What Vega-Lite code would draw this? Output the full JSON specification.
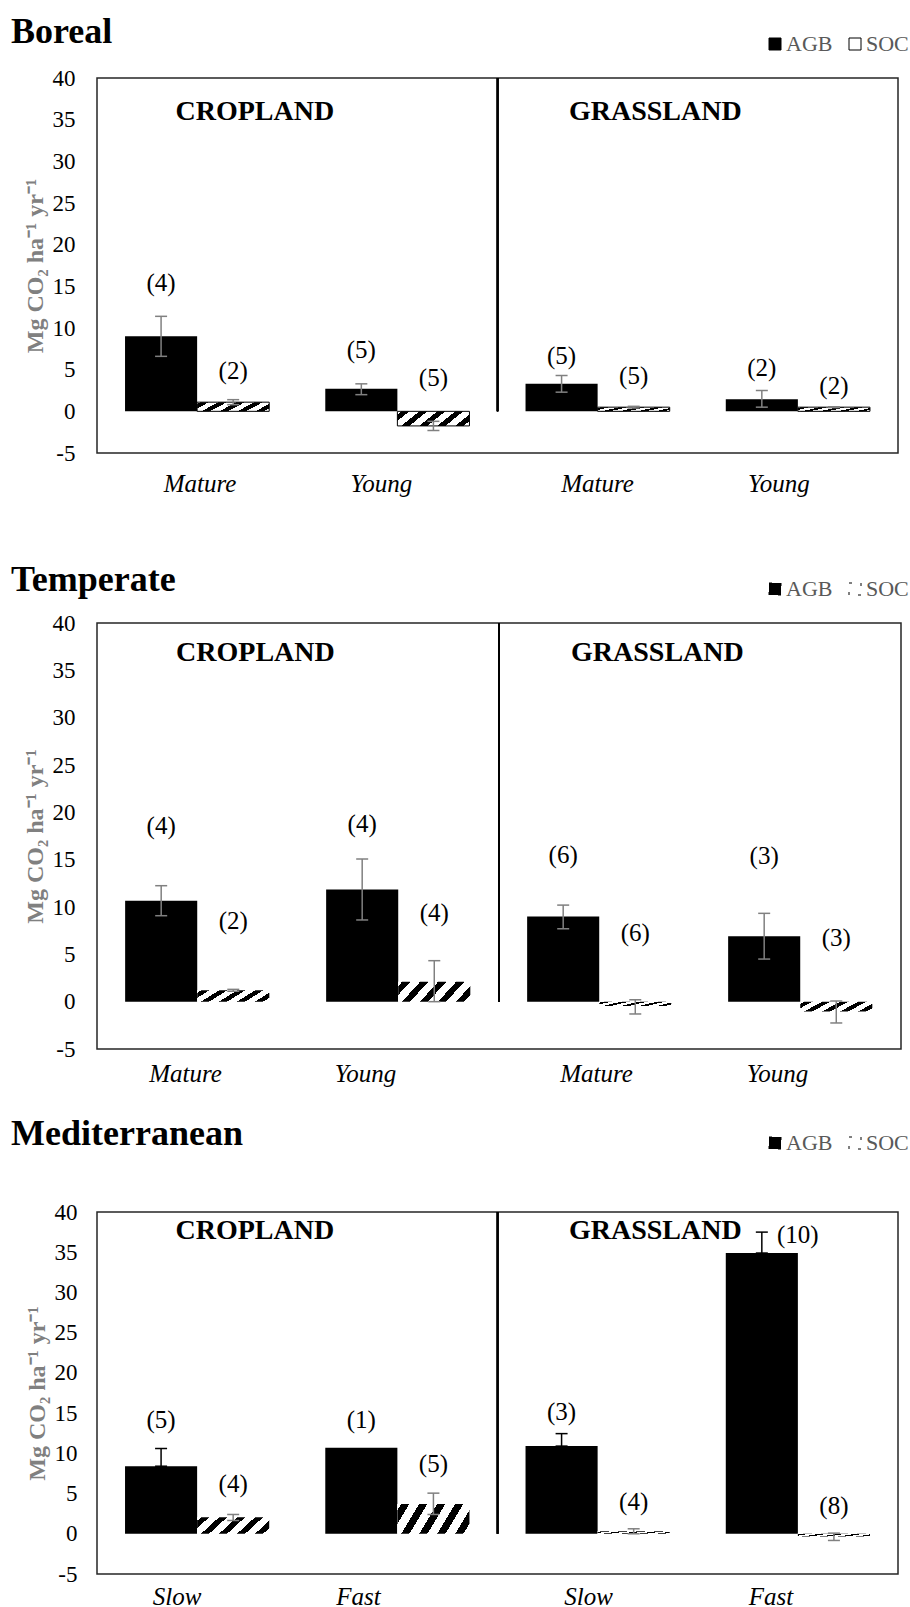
{
  "$schema": "https://vega.github.io/schema/vega-lite/v6.json",
  "padding": {"left": 10, "top": 13, "right": 0, "bottom": 0},
  "background": "white",
  "config": {
    "font": "Liberation Serif",
    "view": {"stroke": "#262626", "strokeWidth": 1.5},
    "axis": {"grid": false, "ticks": false, "domain": false, "labelFont": "Liberation Serif", "labelColor": "black", "titleFont": "Liberation Serif"},
    "legend": {"labelFont": "Liberation Serif"},
    "text": {"font": "Liberation Serif"},
    "concat": {"spacing": 28}
  },
  "datasets": {
    "d": [
      {"region": "Boreal", "grp": "C|Mature", "comp": "AGB", "v": 9.0, "lo": 6.6, "hi": 11.4, "n": "(4)", "ly": 15.4},
      {"region": "Boreal", "grp": "C|Mature", "comp": "SOC", "v": 1.1, "lo": 0.8, "hi": 1.4, "n": "(2)", "ly": 4.8},
      {"region": "Boreal", "grp": "C|Young", "comp": "AGB", "v": 2.7, "lo": 2.0, "hi": 3.3, "n": "(5)", "ly": 7.4},
      {"region": "Boreal", "grp": "C|Young", "comp": "SOC", "v": -1.75, "lo": -2.3, "hi": -1.2, "n": "(5)", "ly": 4.0},
      {"region": "Boreal", "grp": "G|Mature", "comp": "AGB", "v": 3.3, "lo": 2.3, "hi": 4.3, "n": "(5)", "ly": 6.6},
      {"region": "Boreal", "grp": "G|Mature", "comp": "SOC", "v": 0.5, "lo": 0.4, "hi": 0.6, "n": "(5)", "ly": 4.2},
      {"region": "Boreal", "grp": "G|Young", "comp": "AGB", "v": 1.45, "lo": 0.5, "hi": 2.5, "n": "(2)", "ly": 5.2},
      {"region": "Boreal", "grp": "G|Young", "comp": "SOC", "v": 0.5, "lo": 0.45, "hi": 0.55, "n": "(2)", "ly": 3.0},
      {"region": "Temperate", "grp": "C|Mature", "comp": "AGB", "v": 10.65, "lo": 9.08, "hi": 12.25, "n": "(4)", "ly": 18.6},
      {"region": "Temperate", "grp": "C|Mature", "comp": "SOC", "v": 1.2, "lo": 1.1, "hi": 1.3, "n": "(2)", "ly": 8.55},
      {"region": "Temperate", "grp": "C|Young", "comp": "AGB", "v": 11.85, "lo": 8.63, "hi": 15.07, "n": "(4)", "ly": 18.75},
      {"region": "Temperate", "grp": "C|Young", "comp": "SOC", "v": 2.1, "lo": 0.0, "hi": 4.33, "n": "(4)", "ly": 9.4},
      {"region": "Temperate", "grp": "G|Mature", "comp": "AGB", "v": 9.0, "lo": 7.7, "hi": 10.2, "n": "(6)", "ly": 15.5},
      {"region": "Temperate", "grp": "G|Mature", "comp": "SOC", "v": -0.45, "lo": -1.3, "hi": 0.2, "n": "(6)", "ly": 7.25},
      {"region": "Temperate", "grp": "G|Young", "comp": "AGB", "v": 6.9, "lo": 4.5, "hi": 9.33, "n": "(3)", "ly": 15.35},
      {"region": "Temperate", "grp": "G|Young", "comp": "SOC", "v": -1.05, "lo": -2.25, "hi": 0.07, "n": "(3)", "ly": 6.7},
      {"region": "Mediterranean", "grp": "C|Slow", "comp": "AGB", "v": 8.4, "lo": 8.4, "hi": 10.6, "n": "(5)", "ly": 14.1},
      {"region": "Mediterranean", "grp": "C|Slow", "comp": "SOC", "v": 2.05, "lo": 1.65, "hi": 2.4, "n": "(4)", "ly": 6.13},
      {"region": "Mediterranean", "grp": "C|Fast", "comp": "AGB", "v": 10.7, "lo": null, "hi": null, "n": "(1)", "ly": 14.1},
      {"region": "Mediterranean", "grp": "C|Fast", "comp": "SOC", "v": 3.7, "lo": 2.4, "hi": 5.05, "n": "(5)", "ly": 8.7},
      {"region": "Mediterranean", "grp": "G|Slow", "comp": "AGB", "v": 10.9, "lo": 10.9, "hi": 12.45, "n": "(3)", "ly": 15.1},
      {"region": "Mediterranean", "grp": "G|Slow", "comp": "SOC", "v": 0.3, "lo": 0.0, "hi": 0.62, "n": "(4)", "ly": 3.93},
      {"region": "Mediterranean", "grp": "G|Fast", "comp": "AGB", "v": 34.9, "lo": 34.9, "hi": 37.5, "n": "(10)", "ly": 37.1},
      {"region": "Mediterranean", "grp": "G|Fast", "comp": "SOC", "v": -0.35, "lo": -0.83, "hi": 0.08, "n": "(8)", "ly": 3.5}
    ],
    "sections": [
      {"section": "CROPLAND", "side": "C"},
      {"section": "GRASSLAND", "side": "G"}
    ]
  },
  "resolve": {"scale": {"fill": "independent"}, "legend": {"fill": "independent"}},
  "vconcat": [
    {
      "title": {"text": "Boreal", "anchor": "start", "frame": "group", "dx": -86, "offset": -18, "fontSize": 36, "font": "Liberation Serif", "fontWeight": "bold", "color": "black"},
      "width": 801,
      "height": 375,
      "data": {"name": "d"},
      "transform": [{"filter": "datum.region === 'Boreal'"}],
      "encoding": {
        "x": {"field": "grp", "type": "nominal", "scale": {"domain": ["C|Mature", "C|Young", "G|Mature", "G|Young"], "paddingInner": 0.28, "paddingOuter": 0.14},
          "axis": {"title": " ", "titleFontSize": 12, "titlePadding": 25, "labelExpr": "split(datum.value, '|')[1]", "labelFont": "Liberation Serif", "labelFontSize": 25, "labelFontStyle": "italic", "labelPadding": 18, "labelAngle": 0,
            "labelOffset": {"condition": [{"test": "datum.value === 'C|Mature'", "value": 3}, {"test": "datum.value === 'C|Young'", "value": -16}, {"test": "datum.value === 'G|Young'", "value": -19}], "value": 0}}}
      },
      "layer": [
        {
          "mark": {"type": "bar"},
          "encoding": {
            "xOffset": {"field": "comp", "type": "nominal", "scale": {"domain": ["AGB", "SOC"]}},
            "y": {"field": "v", "type": "quantitative", "scale": {"domain": [-5, 40], "nice": false},
              "axis": {"values": [-5, 0, 5, 10, 15, 20, 25, 30, 35, 40], "labelExpr": "'' + datum.value", "labelFont": "Liberation Serif", "title": "Mg CO₂ ha⁻¹ yr⁻¹", "titleFont": "Liberation Serif", "titleFontSize": 24, "titleFontWeight": "bold", "titleColor": "#808080", "titlePadding": 5, "labelFontSize": 23, "labelPadding": 22}},
            "fill": {"field": "comp", "type": "nominal", "scale": {"domain": ["AGB", "SOC"], "range": ["black", "white"]},
              "legend": {"orient": "none", "legendX": 667, "legendY": -45, "direction": "horizontal", "title": null, "labelFontSize": 22, "labelColor": "#595959", "labelFont": "Liberation Serif", "symbolType": "square", "symbolSize": 144, "symbolStrokeColor": "black", "symbolStrokeWidth": 1, "columnPadding": 11, "labelOffset": 0}}
          }
        },
        {
          "transform": [{"filter": "datum.comp === 'SOC'"}],
          "mark": {"type": "bar", "stroke": "black", "strokeWidth": 1, "fill": {"gradient": "linear", "x1": 0, "y1": 0, "x2": 1.25, "y2": 0.3125, "stops": [{"offset": 0, "color": "white"}, {"offset": 0.04, "color": "white"}, {"offset": 0.04, "color": "black"}, {"offset": 0.125, "color": "black"}, {"offset": 0.125, "color": "white"}, {"offset": 0.228, "color": "white"}, {"offset": 0.228, "color": "black"}, {"offset": 0.313, "color": "black"}, {"offset": 0.313, "color": "white"}, {"offset": 0.416, "color": "white"}, {"offset": 0.416, "color": "black"}, {"offset": 0.501, "color": "black"}, {"offset": 0.501, "color": "white"}, {"offset": 0.604, "color": "white"}, {"offset": 0.604, "color": "black"}, {"offset": 0.689, "color": "black"}, {"offset": 0.689, "color": "white"}, {"offset": 0.792, "color": "white"}, {"offset": 0.792, "color": "black"}, {"offset": 0.877, "color": "black"}, {"offset": 0.877, "color": "white"}, {"offset": 1, "color": "white"}]}},
          "encoding": {
            "xOffset": {"field": "comp", "type": "nominal", "scale": {"domain": ["AGB", "SOC"]}},
            "y": {"field": "v", "type": "quantitative", "scale": {"domain": [-5, 40], "nice": false}}
          }
        },
        {
          "mark": {"type": "rule", "color": "black", "strokeWidth": 1.5},
          "encoding": {"y": {"datum": 0, "type": "quantitative", "scale": {"domain": [-5, 40], "nice": false}}}
        },
        {
          "transform": [{"filter": "datum.hi != null"}],
          "mark": {"type": "rule", "color": "#808080", "strokeWidth": 1.5},
          "encoding": {
            "xOffset": {"field": "comp", "type": "nominal", "scale": {"domain": ["AGB", "SOC"]}},
            "y": {"field": "lo", "type": "quantitative", "scale": {"domain": [-5, 40], "nice": false}},
            "y2": {"field": "hi"}
          }
        },
        {
          "transform": [{"filter": "datum.hi != null"}],
          "mark": {"type": "tick", "orient": "horizontal", "size": 12, "thickness": 1.5, "color": "#808080", "opacity": 1},
          "encoding": {
            "xOffset": {"field": "comp", "type": "nominal", "scale": {"domain": ["AGB", "SOC"]}},
            "y": {"field": "hi", "type": "quantitative", "scale": {"domain": [-5, 40], "nice": false}}
          }
        },
        {
          "transform": [{"filter": "datum.hi != null"}],
          "mark": {"type": "tick", "orient": "horizontal", "size": 12, "thickness": 1.5, "color": "#808080", "opacity": 1},
          "encoding": {
            "xOffset": {"field": "comp", "type": "nominal", "scale": {"domain": ["AGB", "SOC"]}},
            "y": {"field": "lo", "type": "quantitative", "scale": {"domain": [-5, 40], "nice": false}}
          }
        },
        {
          "mark": {"type": "text", "fontSize": 25, "font": "Liberation Serif", "baseline": "middle", "color": "black"},
          "encoding": {
            "xOffset": {"field": "comp", "type": "nominal", "scale": {"domain": ["AGB", "SOC"]}},
            "y": {"field": "ly", "type": "quantitative", "scale": {"domain": [-5, 40], "nice": false}},
            "text": {"field": "n"}
          }
        },
        {
          "mark": {"type": "rule", "color": "black", "strokeWidth": 1.5},
          "encoding": {
            "x": {"datum": "G|Mature", "bandPosition": -0.194},
            "y": {"datum": 40, "type": "quantitative", "scale": {"domain": [-5, 40], "nice": false}},
            "y2": {"datum": 0}
          }
        },
        {
          "data": {"name": "sections"},
          "transform": [{"calculate": "datum.side === 'C' ? 'C|Mature' : 'G|Mature'", "as": "grp"}],
          "mark": {"type": "text", "fontSize": 28, "fontWeight": "bold", "font": "Liberation Serif", "baseline": "middle", "color": "black"},
          "encoding": {
            "x": {"field": "grp", "type": "nominal", "bandPosition": 0.9},
            "y": {"datum": 35.9, "type": "quantitative", "scale": {"domain": [-5, 40], "nice": false}},
            "text": {"field": "section"}
          }
        }
      ]
    },
    {
      "title": {"text": "Temperate", "anchor": "start", "frame": "group", "dx": -86, "offset": -21, "fontSize": 36, "font": "Liberation Serif", "fontWeight": "bold", "color": "black"},
      "width": 804,
      "height": 426,
      "data": {"name": "d"},
      "transform": [{"filter": "datum.region === 'Temperate'"}],
      "encoding": {
        "x": {"field": "grp", "type": "nominal", "scale": {"domain": ["C|Mature", "C|Young", "G|Mature", "G|Young"], "paddingInner": 0.28, "paddingOuter": 0.14},
          "axis": {"title": null, "labelExpr": "split(datum.value, '|')[1]", "labelFont": "Liberation Serif", "labelFontSize": 25, "labelFontStyle": "italic", "labelPadding": 12, "labelAngle": 0,
            "labelOffset": {"condition": [{"test": "datum.value === 'C|Mature'", "value": -12}, {"test": "datum.value === 'C|Young'", "value": -33}, {"test": "datum.value === 'G|Mature'", "value": -3}, {"test": "datum.value === 'G|Young'", "value": -23}], "value": 0}}}
      },
      "layer": [
        {
          "mark": {"type": "bar"},
          "encoding": {
            "xOffset": {"field": "comp", "type": "nominal", "scale": {"domain": ["AGB", "SOC"]}},
            "y": {"field": "v", "type": "quantitative", "scale": {"domain": [-5, 40], "nice": false},
              "axis": {"values": [-5, 0, 5, 10, 15, 20, 25, 30, 35, 40], "labelExpr": "'' + datum.value", "labelFont": "Liberation Serif", "title": "Mg CO₂ ha⁻¹ yr⁻¹", "titleFont": "Liberation Serif", "titleFontSize": 24, "titleFontWeight": "bold", "titleColor": "#808080", "titlePadding": 5, "labelFontSize": 23, "labelPadding": 22}},
            "fill": {"field": "comp", "type": "nominal", "scale": {"domain": ["AGB", "SOC"], "range": ["black", "white"]},
              "legend": {"orient": "none", "legendX": 667, "legendY": -45, "direction": "horizontal", "title": null, "labelFontSize": 22, "labelColor": "#595959", "labelFont": "Liberation Serif", "symbolType": "square", "symbolSize": 144, "symbolStrokeColor": "black", "symbolStrokeWidth": 1, "symbolDash": [3, 9], "columnPadding": 11, "labelOffset": 0}}
          }
        },
        {
          "transform": [{"filter": "datum.comp === 'SOC'"}],
          "mark": {"type": "bar", "fill": {"gradient": "linear", "x1": 0, "y1": 0, "x2": 1.25, "y2": 0.3125, "stops": [{"offset": 0, "color": "white"}, {"offset": 0.04, "color": "white"}, {"offset": 0.04, "color": "black"}, {"offset": 0.125, "color": "black"}, {"offset": 0.125, "color": "white"}, {"offset": 0.228, "color": "white"}, {"offset": 0.228, "color": "black"}, {"offset": 0.313, "color": "black"}, {"offset": 0.313, "color": "white"}, {"offset": 0.416, "color": "white"}, {"offset": 0.416, "color": "black"}, {"offset": 0.501, "color": "black"}, {"offset": 0.501, "color": "white"}, {"offset": 0.604, "color": "white"}, {"offset": 0.604, "color": "black"}, {"offset": 0.689, "color": "black"}, {"offset": 0.689, "color": "white"}, {"offset": 0.792, "color": "white"}, {"offset": 0.792, "color": "black"}, {"offset": 0.877, "color": "black"}, {"offset": 0.877, "color": "white"}, {"offset": 1, "color": "white"}]}},
          "encoding": {
            "xOffset": {"field": "comp", "type": "nominal", "scale": {"domain": ["AGB", "SOC"]}},
            "y": {"field": "v", "type": "quantitative", "scale": {"domain": [-5, 40], "nice": false}}
          }
        },
        {
          "mark": {"type": "rule", "color": "black", "strokeWidth": 1.5},
          "encoding": {"y": {"datum": 0, "type": "quantitative", "scale": {"domain": [-5, 40], "nice": false}}}
        },
        {
          "transform": [{"filter": "datum.hi != null"}],
          "mark": {"type": "rule", "color": "#808080", "strokeWidth": 1.5},
          "encoding": {
            "xOffset": {"field": "comp", "type": "nominal", "scale": {"domain": ["AGB", "SOC"]}},
            "y": {"field": "lo", "type": "quantitative", "scale": {"domain": [-5, 40], "nice": false}},
            "y2": {"field": "hi"}
          }
        },
        {
          "transform": [{"filter": "datum.hi != null"}],
          "mark": {"type": "tick", "orient": "horizontal", "size": 12, "thickness": 1.5, "color": "#808080", "opacity": 1},
          "encoding": {
            "xOffset": {"field": "comp", "type": "nominal", "scale": {"domain": ["AGB", "SOC"]}},
            "y": {"field": "hi", "type": "quantitative", "scale": {"domain": [-5, 40], "nice": false}}
          }
        },
        {
          "transform": [{"filter": "datum.hi != null"}],
          "mark": {"type": "tick", "orient": "horizontal", "size": 12, "thickness": 1.5, "color": "#808080", "opacity": 1},
          "encoding": {
            "xOffset": {"field": "comp", "type": "nominal", "scale": {"domain": ["AGB", "SOC"]}},
            "y": {"field": "lo", "type": "quantitative", "scale": {"domain": [-5, 40], "nice": false}}
          }
        },
        {
          "mark": {"type": "text", "fontSize": 25, "font": "Liberation Serif", "baseline": "middle", "color": "black"},
          "encoding": {
            "xOffset": {"field": "comp", "type": "nominal", "scale": {"domain": ["AGB", "SOC"]}},
            "y": {"field": "ly", "type": "quantitative", "scale": {"domain": [-5, 40], "nice": false}},
            "text": {"field": "n"}
          }
        },
        {
          "mark": {"type": "rule", "color": "black", "strokeWidth": 1.5},
          "encoding": {
            "x": {"datum": "G|Mature", "bandPosition": -0.194},
            "y": {"datum": 40, "type": "quantitative", "scale": {"domain": [-5, 40], "nice": false}},
            "y2": {"datum": 0}
          }
        },
        {
          "data": {"name": "sections"},
          "transform": [{"calculate": "datum.side === 'C' ? 'C|Mature' : 'G|Mature'", "as": "grp"}],
          "mark": {"type": "text", "fontSize": 28, "fontWeight": "bold", "font": "Liberation Serif", "baseline": "middle", "color": "black"},
          "encoding": {
            "x": {"field": "grp", "type": "nominal", "bandPosition": 0.9},
            "y": {"datum": 36.8, "type": "quantitative", "scale": {"domain": [-5, 40], "nice": false}},
            "text": {"field": "section"}
          }
        }
      ]
    },
    {
      "title": {"text": "Mediterranean", "anchor": "start", "frame": "group", "dx": -86, "offset": -21, "fontSize": 36, "font": "Liberation Serif", "fontWeight": "bold", "color": "black"},
      "width": 801,
      "height": 362,
      "data": {"name": "d"},
      "transform": [{"filter": "datum.region === 'Mediterranean'"}],
      "encoding": {
        "x": {"field": "grp", "type": "nominal", "scale": {"domain": ["C|Slow", "C|Fast", "G|Slow", "G|Fast"], "paddingInner": 0.28, "paddingOuter": 0.14},
          "axis": {"title": null, "labelExpr": "split(datum.value, '|')[1]", "labelFont": "Liberation Serif", "labelFontSize": 25, "labelFontStyle": "italic", "labelPadding": 10, "labelAngle": 0,
            "labelOffset": {"condition": [{"test": "datum.value === 'C|Slow'", "value": -20}, {"test": "datum.value === 'C|Fast'", "value": -39}, {"test": "datum.value === 'G|Slow'", "value": -9}, {"test": "datum.value === 'G|Fast'", "value": -27}], "value": 0}}}
      },
      "layer": [
        {
          "mark": {"type": "bar"},
          "encoding": {
            "xOffset": {"field": "comp", "type": "nominal", "scale": {"domain": ["AGB", "SOC"]}},
            "y": {"field": "v", "type": "quantitative", "scale": {"domain": [-5, 40], "nice": false},
              "axis": {"values": [-5, 0, 5, 10, 15, 20, 25, 30, 35, 40], "labelExpr": "'' + datum.value", "labelFont": "Liberation Serif", "title": "Mg CO₂ ha⁻¹ yr⁻¹", "titleFont": "Liberation Serif", "titleFontSize": 24, "titleFontWeight": "bold", "titleColor": "#808080", "titlePadding": 5, "labelFontSize": 23, "labelPadding": 20}},
            "fill": {"field": "comp", "type": "nominal", "scale": {"domain": ["AGB", "SOC"], "range": ["black", "white"]},
              "legend": {"orient": "none", "legendX": 667, "legendY": -80, "direction": "horizontal", "title": null, "labelFontSize": 22, "labelColor": "#595959", "labelFont": "Liberation Serif", "symbolType": "square", "symbolSize": 144, "symbolStrokeColor": "black", "symbolStrokeWidth": 1, "symbolDash": [3, 9], "columnPadding": 11, "labelOffset": 0}}
          }
        },
        {
          "transform": [{"filter": "datum.comp === 'SOC'"}],
          "mark": {"type": "bar", "fill": {"gradient": "linear", "x1": 0, "y1": 0, "x2": 1.25, "y2": 0.3125, "stops": [{"offset": 0, "color": "white"}, {"offset": 0.04, "color": "white"}, {"offset": 0.04, "color": "black"}, {"offset": 0.125, "color": "black"}, {"offset": 0.125, "color": "white"}, {"offset": 0.228, "color": "white"}, {"offset": 0.228, "color": "black"}, {"offset": 0.313, "color": "black"}, {"offset": 0.313, "color": "white"}, {"offset": 0.416, "color": "white"}, {"offset": 0.416, "color": "black"}, {"offset": 0.501, "color": "black"}, {"offset": 0.501, "color": "white"}, {"offset": 0.604, "color": "white"}, {"offset": 0.604, "color": "black"}, {"offset": 0.689, "color": "black"}, {"offset": 0.689, "color": "white"}, {"offset": 0.792, "color": "white"}, {"offset": 0.792, "color": "black"}, {"offset": 0.877, "color": "black"}, {"offset": 0.877, "color": "white"}, {"offset": 1, "color": "white"}]}},
          "encoding": {
            "xOffset": {"field": "comp", "type": "nominal", "scale": {"domain": ["AGB", "SOC"]}},
            "y": {"field": "v", "type": "quantitative", "scale": {"domain": [-5, 40], "nice": false}}
          }
        },
        {
          "mark": {"type": "rule", "color": "#bfbfbf", "strokeWidth": 1.5},
          "encoding": {"y": {"datum": 0, "type": "quantitative", "scale": {"domain": [-5, 40], "nice": false}}}
        },
        {
          "transform": [{"filter": "datum.hi != null"}],
          "mark": {"type": "rule", "strokeWidth": 1.5},
          "encoding": {
            "xOffset": {"field": "comp", "type": "nominal", "scale": {"domain": ["AGB", "SOC"]}},
            "y": {"field": "lo", "type": "quantitative", "scale": {"domain": [-5, 40], "nice": false}},
            "y2": {"field": "hi"},
            "color": {"condition": {"test": "datum.comp === 'AGB'", "value": "black"}, "value": "#808080"}
          }
        },
        {
          "transform": [{"filter": "datum.hi != null"}],
          "mark": {"type": "tick", "orient": "horizontal", "size": 12, "thickness": 1.5, "opacity": 1},
          "encoding": {
            "xOffset": {"field": "comp", "type": "nominal", "scale": {"domain": ["AGB", "SOC"]}},
            "y": {"field": "hi", "type": "quantitative", "scale": {"domain": [-5, 40], "nice": false}},
            "color": {"condition": {"test": "datum.comp === 'AGB'", "value": "black"}, "value": "#808080"}
          }
        },
        {
          "transform": [{"filter": "datum.hi != null"}],
          "mark": {"type": "tick", "orient": "horizontal", "size": 12, "thickness": 1.5, "opacity": 1},
          "encoding": {
            "xOffset": {"field": "comp", "type": "nominal", "scale": {"domain": ["AGB", "SOC"]}},
            "y": {"field": "lo", "type": "quantitative", "scale": {"domain": [-5, 40], "nice": false}},
            "color": {"condition": {"test": "datum.comp === 'AGB'", "value": "black"}, "value": "#808080"}
          }
        },
        {
          "transform": [{"filter": "datum.n !== '(10)'"}],
          "mark": {"type": "text", "fontSize": 25, "font": "Liberation Serif", "baseline": "middle", "color": "black"},
          "encoding": {
            "xOffset": {"field": "comp", "type": "nominal", "scale": {"domain": ["AGB", "SOC"]}},
            "y": {"field": "ly", "type": "quantitative", "scale": {"domain": [-5, 40], "nice": false}},
            "text": {"field": "n"}
          }
        },
        {
          "transform": [{"filter": "datum.n === '(10)'"}],
          "mark": {"type": "text", "fontSize": 25, "font": "Liberation Serif", "baseline": "middle", "color": "black", "dx": 36},
          "encoding": {
            "xOffset": {"field": "comp", "type": "nominal", "scale": {"domain": ["AGB", "SOC"]}},
            "y": {"field": "ly", "type": "quantitative", "scale": {"domain": [-5, 40], "nice": false}},
            "text": {"field": "n"}
          }
        },
        {
          "mark": {"type": "rule", "color": "black", "strokeWidth": 1.5},
          "encoding": {
            "x": {"datum": "G|Slow", "bandPosition": -0.194},
            "y": {"datum": 40, "type": "quantitative", "scale": {"domain": [-5, 40], "nice": false}},
            "y2": {"datum": 0}
          }
        },
        {
          "data": {"name": "sections"},
          "transform": [{"calculate": "datum.side === 'C' ? 'C|Slow' : 'G|Slow'", "as": "grp"}],
          "mark": {"type": "text", "fontSize": 28, "fontWeight": "bold", "font": "Liberation Serif", "baseline": "middle", "color": "black"},
          "encoding": {
            "x": {"field": "grp", "type": "nominal", "bandPosition": 0.9},
            "y": {"datum": 37.6, "type": "quantitative", "scale": {"domain": [-5, 40], "nice": false}},
            "text": {"field": "section"}
          }
        }
      ]
    }
  ]
}
